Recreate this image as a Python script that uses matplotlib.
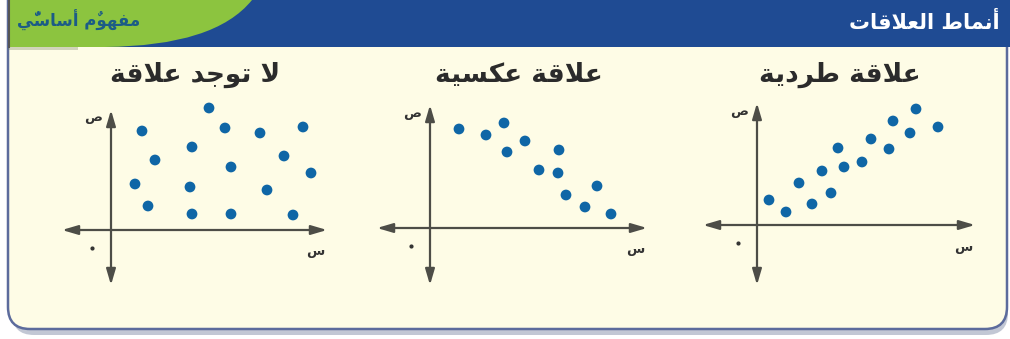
import matplotlib
matplotlib.use("Agg")
import matplotlib.pyplot as plt
from matplotlib.patches import FancyBboxPatch, PathPatch, Rectangle
from matplotlib.path import Path

# ---------------- data (pixel-read estimates, relative units) ----------------
pos_x = [12, 29, 42, 55, 65, 74, 81, 87, 105, 114, 132, 136, 153, 159, 181]
pos_y = [25, 13, 42, 21, 54, 32, 77, 58, 63, 86, 76, 104, 92, 116, 98]

neg_x = [29, 56, 74, 77, 95, 109, 129, 128, 136, 155, 167, 181]
neg_y = [99, 93, 105, 76, 87, 58, 78, 55, 33, 21, 42, 14]

none_x = [98, 31, 114, 149, 192, 81, 44, 120, 173, 200, 24, 79, 156, 37, 81, 120, 182]
none_y = [122, 99, 102, 97, 103, 83, 70, 63, 74, 57, 46, 43, 40, 24, 16, 16, 15]

header_title = "أنماط العلاقات"
tab_label = "مفهومٌ أساسيٌّ"
panel_titles = ["علاقة طردية", "علاقة عكسية", "لا توجد علاقة"]
x_label = "س"
y_label = "ص"

# ---------------- minimal Arabic shaping for matplotlib ----------------
LA, LAH = "LA", "LAH"
FORMS = {
    '\u0627': ('\uFE8D', '\uFE8E', None, None),
    '\u0623': ('\uFE83', '\uFE84', None, None),
    '\u0629': ('\uFE93', '\uFE94', None, None),
    '\u062A': ('\uFE95', '\uFE96', '\uFE97', '\uFE98'),
    '\u062C': ('\uFE9D', '\uFE9E', '\uFE9F', '\uFEA0'),
    '\u062F': ('\uFEA9', '\uFEAA', None, None),
    '\u0631': ('\uFEAD', '\uFEAE', None, None),
    '\u0633': ('\uFEB1', '\uFEB2', '\uFEB3', '\uFEB4'),
    '\u0635': ('\uFEB9', '\uFEBA', '\uFEBB', '\uFEBC'),
    '\u0637': ('\uFEC1', '\uFEC2', '\uFEC3', '\uFEC4'),
    '\u0639': ('\uFEC9', '\uFECA', '\uFECB', '\uFECC'),
    '\u0641': ('\uFED1', '\uFED2', '\uFED3', '\uFED4'),
    '\u0642': ('\uFED5', '\uFED6', '\uFED7', '\uFED8'),
    '\u0643': ('\uFED9', '\uFEDA', '\uFEDB', '\uFEDC'),
    '\u0644': ('\uFEDD', '\uFEDE', '\uFEDF', '\uFEE0'),
    '\u0645': ('\uFEE1', '\uFEE2', '\uFEE3', '\uFEE4'),
    '\u0646': ('\uFEE5', '\uFEE6', '\uFEE7', '\uFEE8'),
    '\u0647': ('\uFEE9', '\uFEEA', '\uFEEB', '\uFEEC'),
    '\u0648': ('\uFEED', '\uFEEE', None, None),
    '\u064A': ('\uFEF1', '\uFEF2', '\uFEF3', '\uFEF4'),
    LA: ('\uFEFB', '\uFEFC', None, None),
    LAH: ('\uFEF7', '\uFEF8', None, None),
}
MARKS = set('\u064B\u064C\u064D\u064E\u064F\u0650\u0651\u0652')


def shape(text):
    chars = list(text)
    clusters = []
    i = 0
    while i < len(chars):
        c = chars[i]
        if c in MARKS and clusters:
            clusters[-1][1] += c
        elif c == '\u0644' and i + 1 < len(chars) and chars[i + 1] in ('\u0627', '\u0623'):
            clusters.append([LA if chars[i + 1] == '\u0627' else LAH, ''])
            i += 1
        else:
            clusters.append([c, ''])
        i += 1

    def dual(b):
        return b in FORMS and FORMS[b][2] is not None

    out = []
    for k, (b, m) in enumerate(clusters):
        if b not in FORMS:
            out.append(b + m)
            continue
        prev = clusters[k - 1][0] if k > 0 else None
        nxt = clusters[k + 1][0] if k + 1 < len(clusters) else None
        jp = prev is not None and dual(prev)
        jn = nxt is not None and nxt in FORMS and dual(b)
        iso, fin, ini, med = FORMS[b]
        g = med if (jp and jn) else fin if jp else ini if jn else iso
        out.append(g + m)
    return ''.join(reversed(out))


# ---------------- figure ----------------
W, H = 1010, 339
fig = plt.figure(figsize=(W / 100, H / 100), dpi=100)
fig.patch.set_facecolor("white")
FONT = ["DejaVu Sans"]

bg = fig.add_axes([0, 0, 1, 1])
bg.set_xlim(0, W)
bg.set_ylim(H, 0)
bg.axis("off")

CREAM = "#fefce6"
BLUE = "#1f4b93"
GREEN = "#8cc43f"
BORDER = "#5c6b9c"

# shadow
bg.add_patch(FancyBboxPatch((12, -30), 996, 365, boxstyle="round,pad=0,rounding_size=22",
                            fc="#9aa3b8", ec="none", alpha=0.6, zorder=0))
# body
bg.add_patch(FancyBboxPatch((8, -30), 999, 359, boxstyle="round,pad=0,rounding_size=22",
                            fc=CREAM, ec=BORDER, lw=1.8, zorder=1))
# header band
bg.add_patch(Rectangle((8, -5), 1010, 52, fc=BLUE, ec="none", zorder=2))
# green tab with curved edge
verts = [(8, -5), (252, -5), (252, 0), (215, 46), (105, 47), (8, 47), (8, -5)]
codes = [Path.MOVETO, Path.LINETO, Path.LINETO, Path.CURVE3, Path.CURVE3, Path.LINETO, Path.CLOSEPOLY]
bg.add_patch(PathPatch(Path(verts, codes), fc=GREEN, ec="none", zorder=3))
bg.add_patch(Rectangle((8, 47), 70, 3, fc="#6b7a55", ec="none", alpha=0.3, zorder=3))
bg.plot([9, 9], [0, 47], color="#555555", lw=1.5, zorder=4)

bg.text(1000, 22, shape(header_title), color="white", fontsize=15, fontweight="bold",
        ha="right", va="center", family=FONT, zorder=5)
bg.text(17, 20, shape(tab_label), color="#1c5c86", fontsize=12, fontweight="bold",
        ha="left", va="center", family=FONT, zorder=5)

AXC = "#4d4d47"
DOT = "#0f66a6"


def panel(ox, oy, title_x, title, xs, ys, xr, yr):
    left, right, top, bottom = ox - 70, ox + 240, 92, 300
    ax = fig.add_axes([left / W, (H - bottom) / H, (right - left) / W, (bottom - top) / H])
    ax.set_xlim(left - ox, right - ox)
    ax.set_ylim(oy - bottom, oy - top)
    ax.axis("off")
    ap = dict(arrowstyle="<|-|>,head_length=0.95,head_width=0.28", color=AXC, lw=1.6,
              shrinkA=0, shrinkB=0)
    ax.annotate("", xy=(xr[1], 0), xytext=(xr[0], 0), arrowprops=ap)
    ax.annotate("", xy=(0, yr[1]), xytext=(0, yr[0]), arrowprops=ap)
    ax.scatter(xs, ys, s=60, color=DOT, edgecolors="none", zorder=3)
    ax.text(-9, yr[1] - 8, shape(y_label), fontsize=9.5, color="#333333", ha="right",
            va="center", family=FONT, fontweight="bold")
    ax.text(xr[1] - 12, -22, shape(x_label), fontsize=9.5, color="#333333", ha="center",
            va="center", family=FONT, fontweight="bold")
    ax.plot([-19], [-18], marker="o", ms=2, color="#333333")
    bg.text(title_x, 75, shape(title), fontsize=19, fontweight="bold", color="#2b2b2b",
            ha="center", va="center", family=FONT, zorder=5)


panel(757, 225, 840, panel_titles[0], pos_x, pos_y, (-54, 218), (-60, 122))
panel(430, 228, 519, panel_titles[1], neg_x, neg_y, (-53, 217), (-57, 123))
panel(111, 230, 195, panel_titles[2], none_x, none_y, (-49, 216), (-55, 120))

fig.savefig("out.png", dpi=100, facecolor="white")
